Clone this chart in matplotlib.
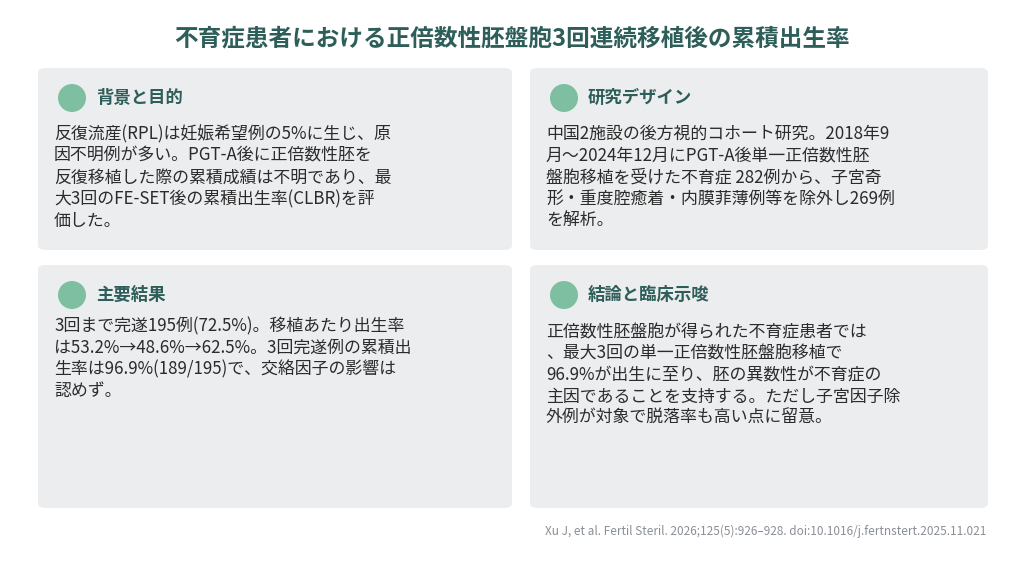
import matplotlib
matplotlib.use("Agg")
import matplotlib.pyplot as plt
from matplotlib.patches import FancyBboxPatch, Circle

plt.rcParams['font.family'] = ['Noto Sans CJK JP', 'DejaVu Sans']

categories = ["1回目", "2回目", "3回目", "累積(3回)"]
values = [53.2, 48.6, 62.5, 96.9]
bar_colors = ["#86c3a6", "#86c3a6", "#86c3a6", "#f0a46a"]

W, H = 1024, 576
fig = plt.figure(figsize=(W/100, H/100), dpi=100)
fig.patch.set_facecolor("white")

def fx(px): return px / W
def fy(py): return 1 - py / H

TITLE_C = "#2e5e5a"
TXT = "#2b2b2b"
PANEL = "#ecedee"
CIRC = "#7dbfa0"

fig.text(0.5, fy(38), "不育症患者における正倍数性胚盤胞3回連続移植後の累積出生率",
         ha="center", va="center", fontsize=17, fontweight="bold", color=TITLE_C)

panels = [
    (38, 68, 474, 182, "背景と目的",
     "反復流産(RPL)は妊娠希望例の5%に生じ、原\n因不明例が多い。PGT-A後に正倍数性胚を\n反復移植した際の累積成績は不明であり、最\n大3回のFE-SET後の累積出生率(CLBR)を評\n価した。", 125),
    (530, 68, 458, 182, "研究デザイン",
     "中国2施設の後方視的コホート研究。2018年9\n月～2024年12月にPGT-A後単一正倍数性胚\n盤胞移植を受けた不育症 282例から、子宮奇\n形・重度腔癒着・内膜菲薄例等を除外し269例\nを解析。", 125),
    (38, 265, 474, 243, "主要結果",
     "3回まで完遂195例(72.5%)。移植あたり出生率\nは53.2%→48.6%→62.5%。3回完遂例の累積出\n生率は96.9%(189/195)で、交絡因子の影響は\n認めず。", 317),
    (530, 265, 458, 243, "結論と臨床示唆",
     "正倍数性胚盤胞が得られた不育症患者では\n、最大3回の単一正倍数性胚盤胞移植で\n96.9%が出生に至り、胚の異数性が不育症の\n主因であることを支持する。ただし子宮因子除\n外例が対象で脱落率も高い点に留意。", 323),
]
for x, y, w, h, head, body, ty in panels:
    p = FancyBboxPatch((fx(x), fy(y + h)), fx(w), h / H,
                       boxstyle="round,pad=0,rounding_size=0.008",
                       transform=fig.transFigure, facecolor=PANEL, edgecolor="none")
    fig.add_artist(p)
    cy = y + 30
    fig.add_artist(Circle(((x + 34) / 100, (H - cy) / 100), 0.14,
                          transform=fig.dpi_scale_trans,
                          facecolor=CIRC, edgecolor="none"))
    fig.text(fx(x + 58), fy(cy), head, ha="left", va="center",
             fontsize=12.5, fontweight="bold", color=TITLE_C)
    fig.text(fx(x + 16), fy(ty), body, ha="left", va="top",
             fontsize=12.2, color=TXT, linespacing=1.25)

ax = fig.add_axes([fx(149), fy(498), 265 / W, 85 / H])
ax.set_facecolor("none")
ypos = list(range(len(categories)))
ax.barh(ypos, values, color=bar_colors, height=0.85)
ax.set_xlim(0, 100)
ax.set_ylim(len(categories) - 0.5, -0.5)
ax.set_yticks(ypos)
ax.set_yticklabels(categories, fontsize=10, color="#3a4a5a")
ax.tick_params(axis="y", length=0, pad=4)
ax.set_xticks([])
for s in ax.spines.values():
    s.set_visible(False)
for i, v in enumerate(values):
    ax.text(v + 0.8, i - 0.12, f"{v:.1f}%", va="center", ha="left",
            fontsize=9.5, fontweight="bold", color="#2e4050")

fig.text(fx(986), fy(531), "Xu J, et al. Fertil Steril. 2026;125(5):926–928. doi:10.1016/j.fertnstert.2025.11.021",
         ha="right", va="center", fontsize=8.5, color="#8a8f96")

fig.savefig("out.png", dpi=100, facecolor="white")
